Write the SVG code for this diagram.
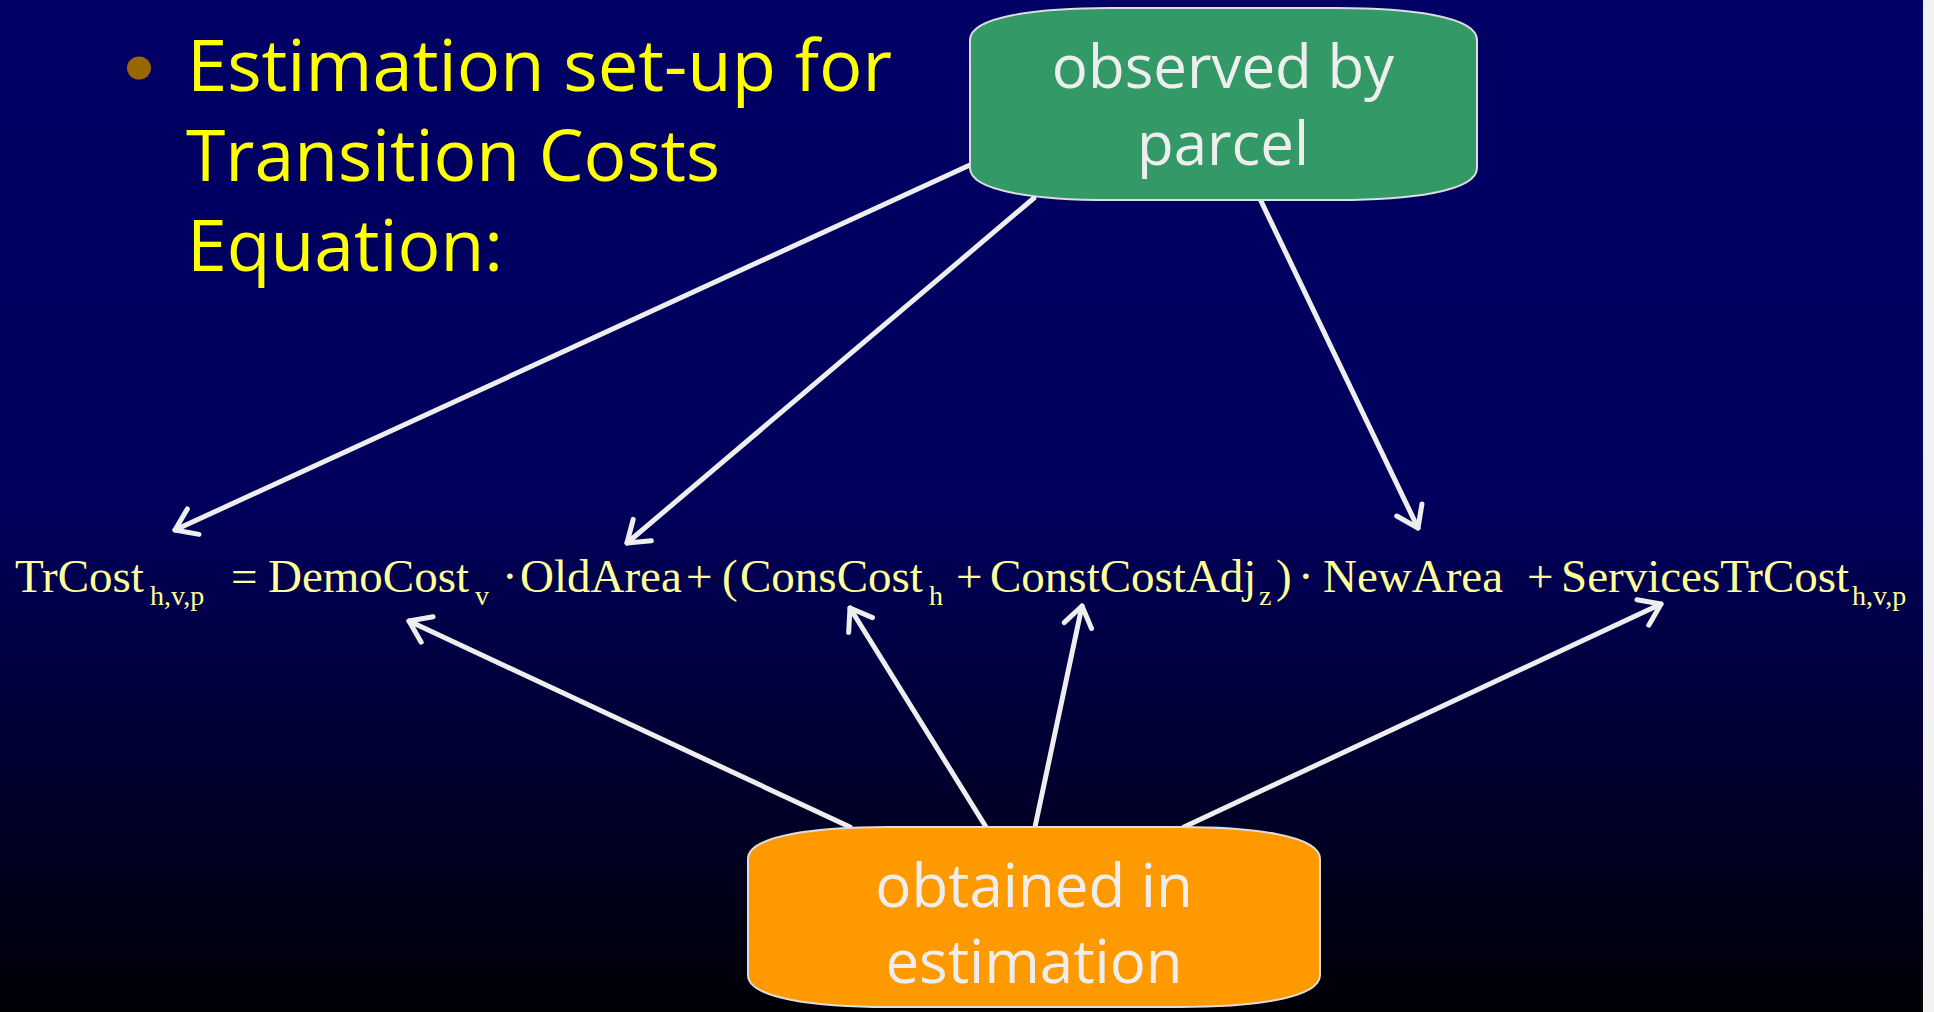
<svg xmlns="http://www.w3.org/2000/svg" width="1934" height="1012" viewBox="0 0 1934 1012">
<defs>
<linearGradient id="bg" x1="0" y1="0" x2="0" y2="1">
<stop offset="0" stop-color="#000066"/>
<stop offset="0.5" stop-color="#00005c"/>
<stop offset="1" stop-color="#000006"/>
</linearGradient>
<marker id="ah" markerUnits="userSpaceOnUse" markerWidth="40" markerHeight="40" viewBox="-26 -20 30 40" refX="0" refY="0" orient="auto">
<path d="M-20,-14 L0,0 L-20,14" fill="none" stroke="#eeeeee" stroke-width="5" stroke-linecap="round" stroke-linejoin="round"/>
</marker>
<style>
.title{font-family:"Open Sans","DejaVu Sans",sans-serif;font-size:72px;fill:#ffff00}
.box{font-family:"Open Sans","DejaVu Sans",sans-serif;font-size:60px;fill:#eeeeee;text-anchor:middle}
.eq{font-family:"Liberation Serif","Times New Roman",serif;font-size:47px;fill:#ffff99}
.sub{font-family:"Liberation Serif","Times New Roman",serif;font-size:28px;fill:#ffff99}
.conn line{stroke:#eeeeee;stroke-width:5;stroke-linecap:round;marker-end:url(#ah)}
.shape{stroke:#dddddd;stroke-width:2}
</style>
</defs>
<rect x="0" y="0" width="1934" height="1012" fill="url(#bg)"/>
<rect x="1923" y="0" width="11" height="1012" fill="#f2f2f2"/>

<g id="title">
<ellipse cx="139" cy="68" rx="12" ry="11.5" fill="#996600"/>
<text class="title" x="187" y="91" textLength="705" lengthAdjust="spacingAndGlyphs">Estimation set-up for</text>
<text class="title" x="186" y="181" textLength="534" lengthAdjust="spacingAndGlyphs">Transition Costs</text>
<text class="title" x="187" y="271" textLength="316" lengthAdjust="spacingAndGlyphs">Equation:</text>
</g>

<g id="equation">
<text class="eq" x="15" y="592">TrCost</text>
<text class="sub" x="150" y="605">h,v,p</text>
<text class="eq" x="231" y="592">=</text>
<text class="eq" x="268" y="592">DemoCost</text>
<text class="sub" x="475" y="605">v</text>
<text class="eq" x="502" y="592">·</text>
<text class="eq" x="520" y="592">OldArea</text>
<text class="eq" x="686" y="592">+</text>
<text class="eq" x="722" y="592">(</text>
<text class="eq" x="740" y="592">ConsCost</text>
<text class="sub" x="929" y="605">h</text>
<text class="eq" x="956" y="592">+</text>
<text class="eq" x="990" y="592">ConstCostAdj</text>
<text class="sub" x="1259" y="605">z</text>
<text class="eq" x="1276" y="592">)</text>
<text class="eq" x="1298" y="592">·</text>
<text class="eq" x="1323" y="592">NewArea</text>
<text class="eq" x="1527" y="592">+</text>
<text class="eq" x="1561" y="592">ServicesTrCost</text>
<text class="sub" x="1852" y="605">h,v,p</text>
</g>

<g id="connectors" class="conn">
<line x1="970" y1="165" x2="175" y2="530"/>
<line x1="1034" y1="198" x2="627" y2="543"/>
<line x1="1261" y1="201" x2="1418" y2="528"/>
<line x1="850" y1="827" x2="409" y2="621"/>
<line x1="986" y1="827" x2="850" y2="608"/>
<line x1="1035" y1="827" x2="1082" y2="606"/>
<line x1="1184" y1="827" x2="1661" y2="604"/>
</g>

<g id="observed">
<path class="shape" fill="#339966" d="M970,40 C970,16 1040,8 1110,8 L1337,8 C1407,8 1477,16 1477,40 L1477,168 C1477,192 1407,200 1337,200 L1110,200 C1040,200 970,192 970,168 Z"/>
<text class="box" x="1223" y="88">observed by</text>
<text class="box" x="1223" y="165">parcel</text>
</g>

<g id="obtained">
<path class="shape" fill="#ff9900" d="M748,859 C748,835 818,827 888,827 L1180,827 C1250,827 1320,835 1320,859 L1320,975 C1320,999 1250,1007 1180,1007 L888,1007 C818,1007 748,999 748,975 Z"/>
<text class="box" x="1034" y="907">obtained in</text>
<text class="box" x="1034" y="983">estimation</text>
</g>
</svg>
